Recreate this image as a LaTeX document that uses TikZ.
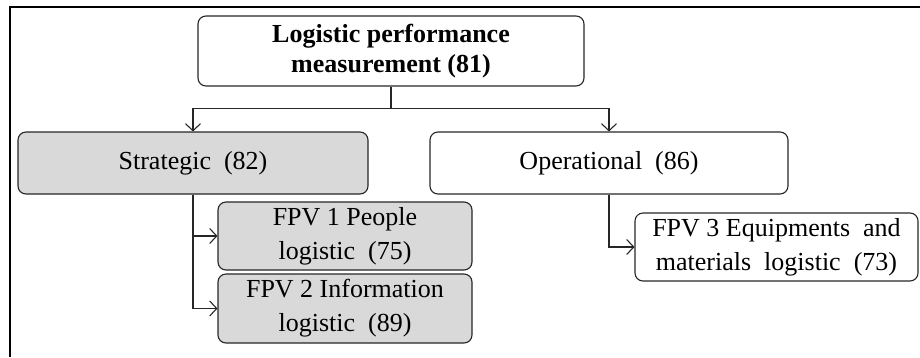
\documentclass[tikz,border=0pt]{standalone}
\usepackage{fontspec}
\setmainfont{Liberation Serif}
\usetikzlibrary{arrows.meta}
\definecolor{boxgray}{HTML}{D9D9D9}
\begin{document}
\begin{tikzpicture}[x=1pt,y=-1pt]
        \tikzstyle{block} = [rectangle, rounded corners=8pt, text=black, align=center, draw=black!85, line width=1.1pt, inner sep=0pt, font=\fontsize{26}{34}\selectfont]
        \tikzstyle{line} = [-{Straight Barb[length=7pt,width=15pt]},draw=black!85,line width=1.1pt]
        \useasboundingbox (0,0) rectangle (920,357);
        % frame
        \draw[line width=1.3pt] (10,357) -- (10,7) -- (920,7);
        \node[block,minimum width=386pt,minimum height=70pt,font=\fontsize{26}{30}\selectfont\bfseries] (lpm) at (391,51) {Logistic performance\\measurement (81)};
        \node[block,fill=boxgray,minimum width=350pt,minimum height=62pt] (strat) at (193,163) {Strategic~~(82)};
        \node[block,minimum width=358pt,minimum height=62pt] (oper) at (609,163) {Operational~~(86)};
        \node[block,fill=boxgray,minimum width=254pt,minimum height=68pt] (people) at (345,236) {FPV 1 People\\logistic~~(75)};
        \node[block,fill=boxgray,minimum width=254pt,minimum height=69pt] (info) at (345,308.5) {FPV 2 Information\\logistic~~(89)};
        \node[block,minimum width=283pt,minimum height=68pt] (equip) at (776.5,247) {FPV 3 Equipments~~and\\materials~~logistic~~(73)};
        \draw[line] (lpm.south) -- ++(0,22) -| (strat.north);
        \draw[line] (lpm.south) -- ++(0,22) -| (oper.north);
        \draw[line] (strat.south) |- (people.west);
        \draw[line] (strat.south) |- (info.west);
        \draw[line] (oper.south) |- (equip.west);
    \end{tikzpicture}
\end{document}
